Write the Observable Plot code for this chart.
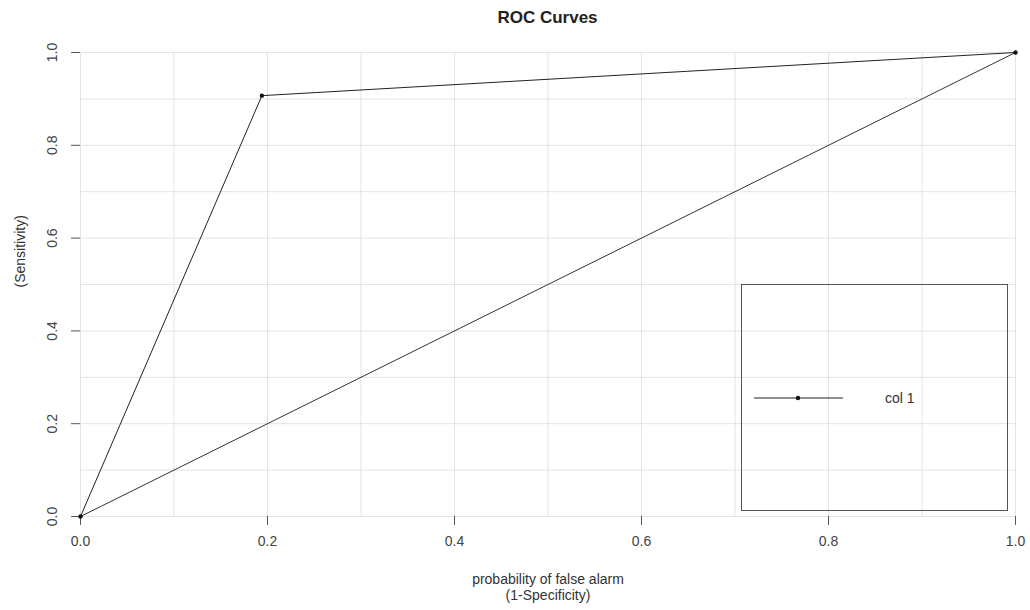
<!DOCTYPE html>
<html>
<head>
<meta charset="utf-8">
<script src="https://cdn.jsdelivr.net/npm/d3@7"></script>
<script src="https://cdn.jsdelivr.net/npm/@observablehq/plot@0.6"></script>
<style>
  body { margin: 0; background: #fff; font-family: "Liberation Sans", Arial, sans-serif; }
  #wrap { position: relative; width: 1030px; height: 610px; }
  #title { height: 36px; width: 1095px; text-align: center; font-weight: bold; font-size: 17px; line-height: 35px; color: #222; }
  #legend { position: absolute; left: 741px; top: 284px; width: 265px; height: 225px; border: 1px solid #555; box-sizing: content-box; }
</style>
</head>
<body>
<div id="wrap">
  <div id="title">ROC Curves</div>
  <div id="chart"></div>
  <div id="legend"></div>
</div>
<script>
// ROC curve points (1-Specificity, Sensitivity)
const fpr = [0, 0.194, 1];
const tpr = [0, 0.907, 1];
// reference diagonal
const diagX = [0, 1];
const diagY = [0, 1];
const seriesName = "col 1";
const tickValues = [0, 0.2, 0.4, 0.6, 0.8, 1.0];
const gridValues = [0, 0.1, 0.2, 0.3, 0.4, 0.5, 0.6, 0.7, 0.8, 0.9, 1.0];
const xLabelLines = ["probability of false alarm", "(1-Specificity)"];
const yLabel = "(Sensitivity)";

const roc = fpr.map((x, i) => ({x, y: tpr[i]}));
const diag = diagX.map((x, i) => ({x, y: diagY[i]}));

const fmt = d3.format(".1f");
const chart = Plot.plot({
  width: 1030,
  height: 574,
  marginLeft: 80,
  marginRight: 15,
  marginTop: 16,
  marginBottom: 94,
  style: {fontFamily: '"Liberation Sans", Arial, sans-serif', fontSize: "14px", color: "#333", background: "#fff"},
  x: {domain: [0, 1]},
  y: {domain: [0, 1]},
  marks: [
    Plot.gridX(gridValues, {stroke: "#e3e3e3", strokeOpacity: 1}),
    Plot.gridY(gridValues, {stroke: "#e3e3e3", strokeOpacity: 1}),
    Plot.axisX(tickValues, {tickSize: 9, tickPadding: 11, tickFormat: fmt, label: null, stroke: "#555", fill: "#444", fontSize: 14}),
    Plot.axisY(tickValues, {tickSize: 9, text: null, label: null, stroke: "#555"}),
    Plot.axisY(tickValues, {tickSize: 0, tickPadding: 28, tickFormat: fmt, label: null, rotate: -90, textAnchor: "middle", fill: "#444", fontSize: 14}),
    Plot.line(diag, {x: "x", y: "y", stroke: "#333", strokeWidth: 1}),
    Plot.line(roc, {x: "x", y: "y", stroke: "#222", strokeWidth: 1}),
    Plot.dot(roc, {x: "x", y: "y", r: 2.2, fill: "#111", stroke: "none"}),
    Plot.text([xLabelLines[0]], {frameAnchor: "bottom", dy: 67, text: d => d, fontSize: 14, fill: "#333"}),
    Plot.text([xLabelLines[1]], {frameAnchor: "bottom", dy: 83, text: d => d, fontSize: 14, fill: "#333"}),
    Plot.text([yLabel], {frameAnchor: "left", dx: -60, dy: 3, rotate: -90, text: d => d, fontSize: 14, fill: "#333"})
  ]
});
document.getElementById("chart").appendChild(chart);

// legend (layout element)
const lg = d3.select("#legend").append("svg").attr("width", 265).attr("height", 225);
lg.append("line").attr("x1", 12).attr("x2", 101).attr("y1", 113).attr("y2", 113).attr("stroke", "#222").attr("stroke-width", 1);
lg.append("circle").attr("cx", 56).attr("cy", 113).attr("r", 2.2).attr("fill", "#111");
lg.append("text").attr("x", 143).attr("y", 113).attr("dy", "0.35em").attr("font-size", 14).attr("fill", "#333").text(seriesName);
</script>
</body>
</html>
